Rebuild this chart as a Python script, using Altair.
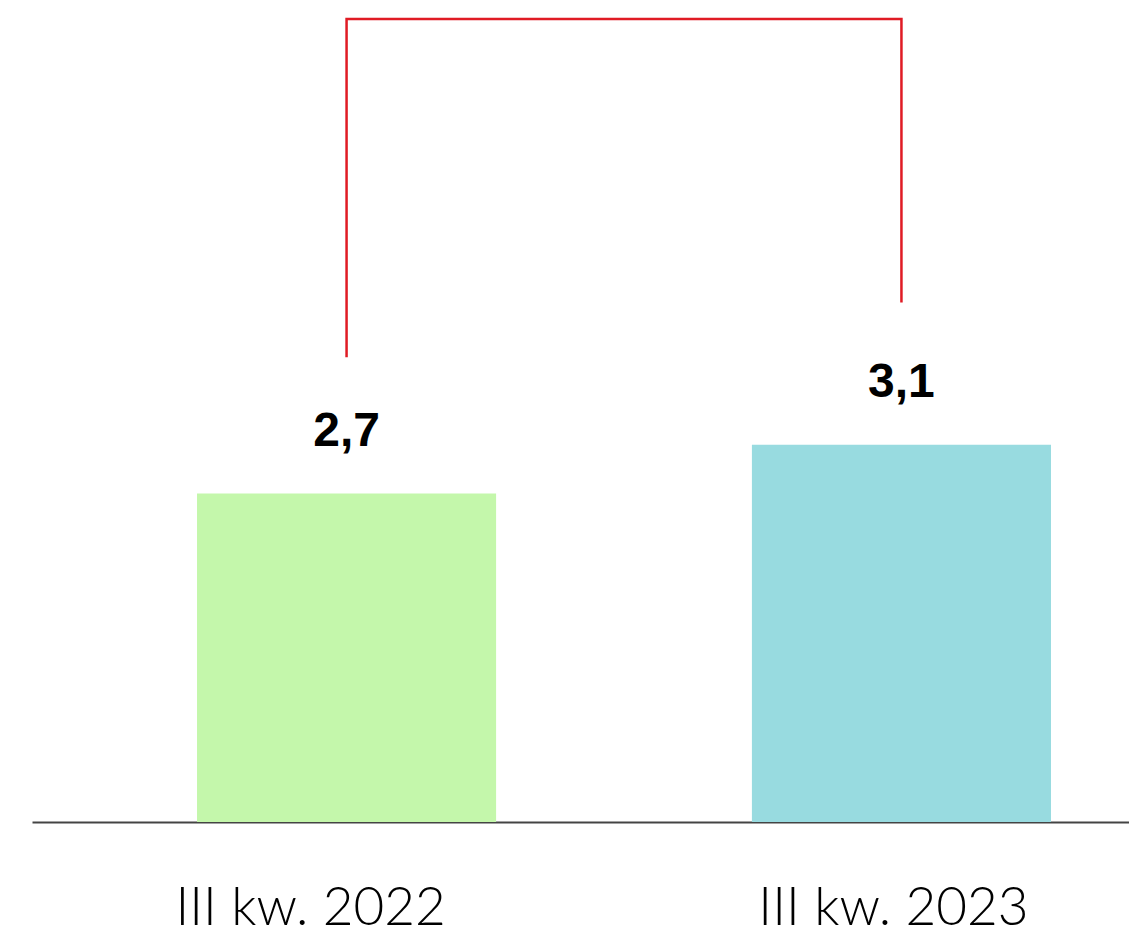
import altair as alt
import pandas as pd

categories = ["III kw. 2022", "III kw. 2023"]
values = [2.7, 3.1]
labels = ["2,7", "3,1"]
colors = ["#c4f7ab", "#98dbe0"]

# bracket annotation in data units
bracket_x = ["III kw. 2022", "III kw. 2022", "III kw. 2023", "III kw. 2023"]
bracket_y = [3.82, 6.6, 6.6, 4.27]
bracket_order = [0, 1, 2, 3]

bars_df = pd.DataFrame({"cat": categories, "val": values, "lab": labels})
br_df = pd.DataFrame({"cat": bracket_x, "y": bracket_y, "o": bracket_order})

xscale = alt.Scale(domain=categories, paddingInner=0.461, paddingOuter=0.219, align=0.679)
yscale = alt.Scale(domain=[0, 6.6], nice=False)

x = alt.X("cat:N", scale=xscale, sort=categories, title=None,
          axis=alt.Axis(labelAngle=0, ticks=False, domain=True, domainColor="#444444",
                        domainWidth=2, labelFont="Lato", labelFontWeight=300, labelLimit=0,
                        labelFontSize=53, labelColor="#000000", labelPadding=102,
                        labelBaseline="alphabetic",
                        labelOffset={"condition": {"test": "datum.value == 'III kw. 2022'", "value": -36},
                                     "value": -8},
                        grid=False))

bars = alt.Chart(bars_df).mark_bar().encode(
    x=x,
    y=alt.Y("val:Q", scale=yscale, axis=None),
    color=alt.Color("cat:N", scale=alt.Scale(domain=categories, range=colors), legend=None),
)

text = alt.Chart(bars_df).mark_text(
    font="Liberation Sans", fontWeight="bold", fontSize=48, baseline="bottom", dy=-38, color="#000000"
).encode(
    x=alt.X("cat:N", scale=xscale, sort=categories),
    y=alt.Y("val:Q", scale=yscale),
    text="lab:N",
)

bracket = alt.Chart(br_df).mark_line(color="#e01b24", strokeWidth=2.5).encode(
    x=alt.X("cat:N", scale=xscale, sort=categories),
    y=alt.Y("y:Q", scale=yscale),
    order="o:Q",
)

chart = alt.layer(bars, text, bracket).properties(
    width=1097, height=803,
    padding={"left": 24, "top": 6, "right": 0, "bottom": 0},
).configure(background="white").configure_view(strokeWidth=0)

chart.save("out.html", embed_options={"renderer": "svg", "actions": False})
